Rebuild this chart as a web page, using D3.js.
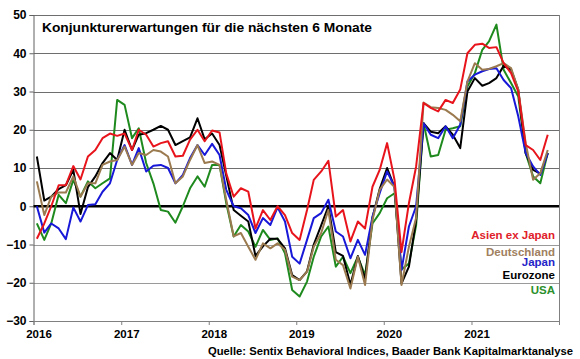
<!DOCTYPE html>
<html>
<head>
<meta charset="utf-8">
<script src="https://cdn.jsdelivr.net/npm/d3@7"></script>
<style>
  body { margin: 0; background: #fff; }
  svg { display: block; font-family: Arial, "Liberation Sans", sans-serif; }
</style>
</head>
<body>
<div id="main"></div>
<script>
// Sentix Konjunkturerwartungen, monatlich Jan 2016 - Nov 2021
const chartTitle = "Konjunkturerwartungen für die nächsten 6 Monate";
const sourceText = "Quelle: Sentix Behavioral Indices, Baader Bank Kapitalmarktanalyse";

const asienExJapan = [
  -8.5, -4.5, 0, 5.5, 5.5, 10.5, 7, 13, 14.7, 17.8, 19, 18.4,
  19, 14.7, 20, 18.7, 15.6, 16.5, 17, 13, 13.2, 17.4, 20, 17,
  19.8, 19.3, 8.6, 2.5, 4.7, 3.8, -5.8, -1, -3.6, 0, -2.3, -7,
  -8.8, -1, 6.9, 9.1, 11.9, -2.7, -1, -9.2, -4, -5.8, 5.1, 9.5,
  16.5, 6.9, -12, 0.8, 10.4, 27, 25.7, 24.8, 27.8, 27, 30.5, 40,
  42.2, 42.5, 41.4, 41.6, 37.4, 34.8, 30, 16, 14.7, 12.1, 18.7
];
const deutschland = [
  6.5, -2.3, 2.5, 3.6, 3.6, 7.8, 2.5, 6, 6, 10.8, 11.7, 12.1,
  15.6, 10.8, 13.9, 13.4, 14.7, 14.3, 13, 6, 7.8, 12.1, 16, 11.3,
  11.7, 10.8, 1.7, -7.9, -7, -10.6, -14, -9.7, -11, -9.7, -11.4, -18.4,
  -19.3, -17.1, -10.6, -7, -1, -14, -15.4, -21.5, -13.2, -20.6, -3.6, 4.3,
  7, 5, -20.6, -10.6, -3, 27.1, 25.9, 25.7, 25.2, 23.9, 22.2, 32.6,
  37.4, 35.7, 35.9, 36.6, 37.4, 36.1, 30.5, 16.5, 6.9, 8.6, 14.7
];
const japan = [
  0, -6.9, -4.5, -5.8, -8.6, -0.3, -4, 0.3, 0.5, 3.8, 6, 12.1,
  16, 10.8, 15.2, 9.1, 10.6, 10.8, 10, 6, 8.2, 12.6, 16, 13.4,
  16.3, 13.4, 4.3, 0, -0.5, -2.3, -7, -3.1, -4.9, -0.3, -4, -13.2,
  -15, -8.8, -3.1, -1.8, 1.7, -6.6, -7.9, -13.6, -8.8, -12.7, -2.7, 3.4,
  9.1, 5.1, -16.7, -5.3, 0, 21.7, 18.7, 17.8, 20.9, 17.8, 21.3, 32.6,
  34.4, 35.3, 35.9, 36.1, 33, 30.9, 23.5, 13.9, 10.4, 8.2, 13.9
];
const eurozone = [
  13, 1.5, 2.5, 4.5, 5.5, 9.5, -2, 5, 7.8, 11.3, 13.9, 12.1,
  20, 14.7, 18.7, 19.1, 20, 21, 20, 16, 17, 18, 23, 17.5,
  19, 16, 8, -1, -2.5, -4, -13, -10.5, -8.5, -8.5, -11, -18,
  -19.3, -17, -10, -5, 0, -12, -13, -20.5, -13, -19, -3, 4.5,
  10, 5, -20.2, -15.8, -3.6, 21.7, 19.5, 19.1, 20.9, 18.7, 15.2, 30,
  33.5, 31.5, 32.2, 33.5, 36.7, 35.7, 30.5, 13.9, 9.5, 8.5, 13.9
];
const usa = [
  -4.5, -8.8, -4.5, 3, 0.8, 6.9, 2.5, 6.5, 4.7, 6, 7.3, 27.8,
  26.5, 17.8, 20.4, 11.3, 6, -1, -1.4, -4.3, 0, 4.7, 7.8, 5.1,
  10.8, 10.8, 0.8, -7.9, -4.9, -6.6, -10.6, -6.2, -8.8, -8.4, -12.3, -21.9,
  -23.6, -19.7, -13.2, -7.9, -5.3, -15.8, -13.2, -17.5, -13.2, -18, -4.5, -1.8,
  2.1, 3.4, -16.5, -15, -5, 21.7, 13, 13.4, 20, 20.4, 20.9, 31.3,
  34.8, 40.9, 43.1, 47.5, 35.7, 32.2, 28.7, 13.9, 7.8, 6, 13.9
];

const yTicks = [-30, -20, -10, 0, 10, 20, 30, 40, 50];
const yearLabels = ["2016", "2017", "2018", "2019", "2020", "2021"];

// Zeichenreihenfolge: USA unten, Asien oben
const series = [
  { name: "USA", values: usa, color: "#1e8a1e", legendColor: "#2b8f2b", ly: 294 },
  { name: "Eurozone", values: eurozone, color: "#000000", legendColor: "#000000", ly: 279 },
  { name: "Japan", values: japan, color: "#1818d8", legendColor: "#2424c8", ly: 266 },
  { name: "Deutschland", values: deutschland, color: "#9a7a4e", legendColor: "#a08060", ly: 255.5 },
  { name: "Asien ex Japan", values: asienExJapan, color: "#e8141c", legendColor: "#e0202a", ly: 239 }
];

const months = d3.range(asienExJapan.length).map(i => new Date(2016, i, 15));

const c = { width: 580, height: 359, left: 33.5, right: 559, top: 15, bottom: 321 };

const svg = d3.select("#main")
  .append("svg")
  .attr("width", c.width)
  .attr("height", c.height);

const x = d3.scaleTime()
  .domain([new Date(2016, 0, 1), new Date(2022, 0, 1)])
  .range([c.left, c.right]);

const y = d3.scaleLinear()
  .domain([-30, 50])
  .range([c.bottom, c.top]);

// Gitterlinien
svg.append("g")
  .selectAll("line")
  .data(yTicks.filter(d => d !== 0 && d !== -30))
  .enter()
  .append("line")
    .attr("x1", c.left)
    .attr("x2", c.right)
    .attr("y1", d => Math.round(y(d)) + 0.5)
    .attr("y2", d => Math.round(y(d)) + 0.5)
    .attr("stroke", d => d < 0 ? "#9a9a9a" : "#6e6e6e")
    .attr("stroke-width", 1);

// rechter Rand
svg.append("line")
  .attr("x1", c.right + 0.5).attr("x2", c.right + 0.5)
  .attr("y1", c.top).attr("y2", c.bottom)
  .attr("stroke", "#808080");

// y-Achse
const yAxis = d3.axisLeft(y).tickValues(yTicks).tickSize(4).tickPadding(3);
const gy = svg.append("g")
  .attr("transform", `translate(${c.left},0)`)
  .call(yAxis);
gy.select(".domain").attr("stroke", "#606060");
gy.selectAll(".tick line").attr("stroke", "#606060");
gy.selectAll(".tick text")
  .attr("font-family", "Arial, 'Liberation Sans', sans-serif")
  .attr("font-size", 12)
  .attr("font-weight", "bold")
  .attr("fill", "#000");

// x-Achse
const xAxis = d3.axisBottom(x)
  .ticks(d3.timeYear.every(1))
  .tickSize(4)
  .tickFormat(d => yearLabels.includes(d3.timeFormat("%Y")(d)) ? d3.timeFormat("%Y")(d) : "");
const gx = svg.append("g")
  .attr("transform", `translate(0,${c.bottom})`)
  .call(xAxis);
gx.select(".domain").attr("stroke", "#808080");
gx.selectAll(".tick line").attr("stroke", "#808080");
gx.selectAll(".tick text")
  .attr("font-family", "Arial, 'Liberation Sans', sans-serif")
  .attr("font-size", 11.5)
  .attr("font-weight", "bold")
  .attr("fill", "#000")
  .attr("dx", 5)
  .attr("y", 9);

// Null-Linie
svg.append("line")
  .attr("x1", c.left)
  .attr("x2", c.right)
  .attr("y1", y(0))
  .attr("y2", y(0))
  .attr("stroke", "#000")
  .attr("stroke-width", 2.5);

// Linien
const line = d3.line()
  .x((d, i) => x(months[i]))
  .y(d => y(d));

svg.append("g")
  .selectAll("path")
  .data(series)
  .enter()
  .append("path")
    .attr("d", d => line(d.values))
    .attr("fill", "none")
    .attr("stroke", d => d.color)
    .attr("stroke-width", 2)
    .attr("stroke-linejoin", "round");

// Titel
svg.append("text")
  .attr("x", 42)
  .attr("y", 32)
  .attr("font-size", 12.5)
  .attr("font-weight", "bold")
  .attr("textLength", 330)
  .attr("lengthAdjust", "spacingAndGlyphs")
  .text(chartTitle);

// Legende
svg.append("g")
  .selectAll("text")
  .data(series)
  .enter()
  .append("text")
    .attr("x", 555)
    .attr("y", d => d.ly)
    .attr("text-anchor", "end")
    .attr("font-size", 11.5)
    .attr("font-weight", "bold")
    .attr("fill", d => d.legendColor)
    .text(d => d.name);

// Quelle
svg.append("text")
  .attr("x", 573)
  .attr("y", 355)
  .attr("text-anchor", "end")
  .attr("font-size", 11.5)
  .attr("font-weight", "bold")
  .attr("textLength", 365)
  .attr("lengthAdjust", "spacingAndGlyphs")
  .text(sourceText);
</script>
</body>
</html>
